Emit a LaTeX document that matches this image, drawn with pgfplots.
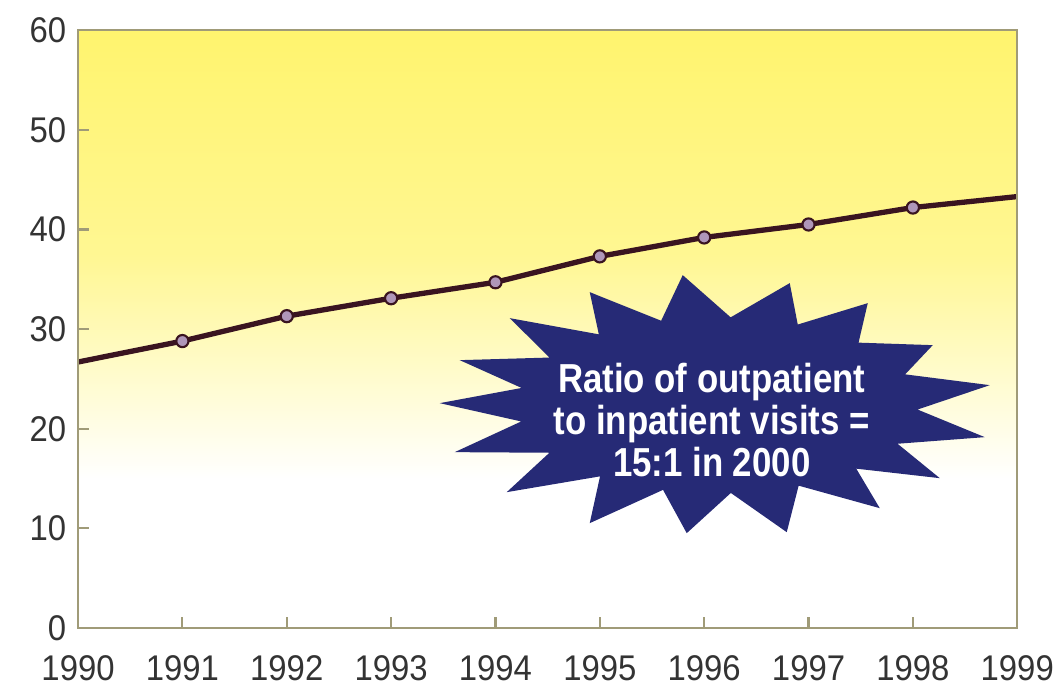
\documentclass[border=0pt]{standalone}
\usepackage{fontspec}
\setmainfont{Liberation Sans}
\newfontfamily\tickfont{Liberation Sans}[FakeStretch=0.92]
\newfontfamily\starfont{Liberation Sans}[FakeStretch=0.86]
\usepackage{pgfplots}
\pgfplotsset{compat=1.18}
\definecolor{lineC}{RGB}{58,20,32}
\definecolor{markC}{RGB}{175,150,185}
\definecolor{starC}{RGB}{38,42,118}
\definecolor{yel}{RGB}{255,244,110}
\definecolor{axC}{RGB}{160,155,120}
\begin{document}
\begin{tikzpicture}
\path[use as bounding box] (-29.5pt,-24.6pt) rectangle (370.4pt,237.4pt);
\begin{axis}[at={(0,0)}, anchor=south west, scale only axis, width=355pt, height=226pt,
 xmin=1990, xmax=1999, ymin=0, ymax=60,
 xtick={1990,1991,...,1999}, ytick={0,10,...,60},
 axis on top, axis line style={axC, line width=0.8pt},
 tick style={axC, line width=0.8pt}, major tick length=4pt,
 tick align=inside, xtick pos=bottom, ytick pos=left,
 /pgf/number format/1000 sep={}, /pgf/number format/assume math mode=true,
 ticklabel style={font=\tickfont\fontsize{13.5}{13.5}\selectfont, text=black!80},
 xticklabel style={yshift=-7pt},
 yticklabel style={xshift=-1pt},
]
\shade[top color=yel, bottom color=white, middle color=yel!75!white] (axis cs:1990,15) rectangle (axis cs:1999,60);
\addplot[lineC, line width=2pt, mark=*, mark size=2.3pt,
  mark options={fill=markC, draw=lineC, line width=0.8pt}, mark indices={2,3,4,5,6,7,8,9}]
  coordinates {(1990,26.7) (1991,28.8) (1992,31.3) (1993,33.1) (1994,34.7) (1995,37.3) (1996,39.2) (1997,40.5) (1998,42.2) (1999,43.3)};
\begin{scope}[shift={(axis cs:1996.13,22.37)}, x=0.378pt, y=-0.378pt]
\fill[starC] (-35,-130) -- (12.9,-87.8) -- (72,-122) -- (80,-80.6) -- (150,-102) -- (140.8,-62.5)
 -- (215,-60) -- (187.4,-30.8) -- (272,-20) -- (199.8,4.4) -- (267,32) -- (179.8,38.6)
 -- (222,73) -- (138.5,63.5) -- (162,103) -- (80.9,80.5) -- (69,127) -- (13.1,87.8)
 -- (-31,128) -- (-54.7,84.7) -- (-128,118) -- (-117.7,71.2) -- (-211,87) -- (-168.3,47.6)
 -- (-263,47) -- (-196.5,16.3) -- (-278,-2) -- (-196.1,-17.2) -- (-258,-45) -- (-168.2,-47.6)
 -- (-208,-87) -- (-118.9,-70.8) -- (-128,-113) -- (-56.6,-84.4) -- cycle;
\node[text=white, font=\starfont\bfseries\fontsize{15.3}{16}\selectfont, align=center, inner sep=0pt] at (-6,15) {Ratio of outpatient\\to inpatient visits =\\15:1 in 2000};
\end{scope}
\end{axis}
\end{tikzpicture}
\end{document}
